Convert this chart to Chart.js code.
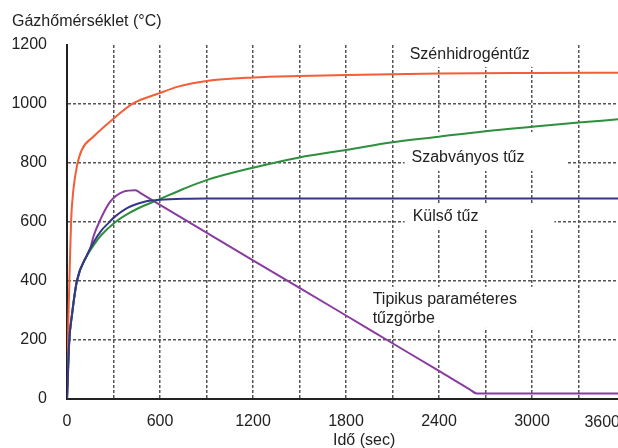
<!DOCTYPE html>
<html lang="hu">
<head>
<meta charset="utf-8">
<title>Gázhőmérséklet</title>
<script src="https://cdn.jsdelivr.net/npm/chart.js@4.4.1/dist/chart.umd.min.js"></script>
<style>
  html, body { margin: 0; padding: 0; background: #fff; overflow: hidden; }
  #wrap { width: 618px; height: 448px; }
</style>
</head>
<body>
<div id="wrap"><canvas id="chart" width="618" height="448"></canvas></div>
<script>
// ── Values (time in s, temperature in °C) ──────────────────────────
const hydroTime = [0, 8, 18, 27, 41, 63, 95, 170, 277, 427, 593, 717, 900, 1200, 1500, 1800, 2400, 3000, 3555];
const hydroTemp = [0, 250, 450, 610, 708, 787, 844, 889, 940, 1002, 1036, 1059, 1078, 1090, 1095, 1098, 1103, 1105, 1106];

const standardTime = [0, 15, 32, 64, 129, 170, 220, 313, 400, 495, 560, 600, 750, 900, 1200, 1500, 1800, 2100, 2400, 2700, 3000, 3300, 3555];
const standardTemp = [0, 200, 285, 400, 485, 520, 555, 600, 630, 655, 669, 678, 712, 742, 784, 819, 844, 870, 889, 908, 923, 937, 948];

const externalTime = [0, 15, 32, 64, 129, 170, 220, 270, 300, 390, 495, 600, 750, 900, 3555];
const externalTemp = [0, 200, 285, 400, 488, 530, 570, 598, 614, 648, 668, 675, 679, 680, 680];

const paramTime = [0, 15, 32, 64, 129, 150, 170, 214, 279, 365, 441, 480, 600, 900, 1200, 1500, 1800, 2100, 2400, 2600, 2643, 3555];
const paramTemp = [0, 200, 285, 400, 488, 510, 550, 607, 669, 703, 708, 696, 658, 564, 470, 377, 283, 189, 95, 32, 19, 19];

const timeMax = 3555;                       // the picture is cut just before 3600 s
const xGridTimes = [0, 300, 600, 900, 1200, 1500, 1800, 2100, 2400, 2700, 3000, 3300];
const xTickLabels = [0, 600, 1200, 1800, 2400, 3000, 3600];
const yTicks = [0, 200, 400, 600, 800, 1000, 1200];

// ── Series labels inside the plot (data coordinates) ───────────────
const notes = [
  { lines: ['Szénhidrogéntűz'], t: 2211, T: 1166, box: [2135, 3050, 1200, 1125] },
  { lines: ['Szabványos tűz'], t: 2223, T: 820, box: [2178, 3229, 905, 773] },
  { lines: ['Külső tűz'], t: 2230, T: 617, box: [2178, 3145, 658, 580] },
  { lines: ['Tipikus paraméteres', 'tűzgörbe'], t: 1972, T: 336, box: [1824, 3048, 380, 241] },
];

const FONT = '"Liberation Sans", Arial, Helvetica, sans-serif';
const TEXT = '#222';
const GRID = '#555';

Chart.defaults.font.family = FONT;
Chart.defaults.font.size = 16;
Chart.defaults.color = TEXT;

function toPoints(ts, vs) {
  return ts.map((t, i) => ({ x: t, y: vs[i] }));
}

function series(label, ts, vs, color) {
  return {
    label,
    data: toPoints(ts, vs),
    borderColor: color,
    backgroundColor: color,
    borderWidth: 2,
    pointRadius: 0,
    cubicInterpolationMode: 'monotone',
    fill: false,
  };
}

// ── Text and label backgrounds ─────────────────────────────────────
const annotate = {
  id: 'annotate',
  beforeDatasetsDraw(chart) {
    const { ctx, scales: { x, y } } = chart;
    ctx.save();
    ctx.fillStyle = '#fff';
    notes.forEach(n => {
      const [t0, t1, v0, v1] = n.box;
      const left = x.getPixelForValue(t0), right = x.getPixelForValue(t1);
      const top = y.getPixelForValue(v0), bottom = y.getPixelForValue(v1);
      ctx.fillRect(left, top, right - left, bottom - top);
    });
    ctx.restore();
  },
  afterDraw(chart) {
    const { ctx, scales: { x, y }, width } = chart;
    ctx.save();
    ctx.fillStyle = TEXT;
    ctx.font = `16px ${FONT}`;

    // series labels
    ctx.textAlign = 'left';
    ctx.textBaseline = 'middle';
    notes.forEach(n => {
      const px = x.getPixelForValue(n.t);
      const py = y.getPixelForValue(n.T);
      n.lines.forEach((line, i) => ctx.fillText(line, px, py + i * 18.5));
    });

    // tick labels beyond the visible range (cut at the right edge)
    ctx.textBaseline = 'alphabetic';
    ctx.textAlign = 'right';
    xTickLabels.filter(v => v > x.max).forEach(v => ctx.fillText(String(v), width + 2, 427));

    // axis titles
    ctx.textAlign = 'left';
    ctx.fillText('Gázhőmérséklet (°C)', 12, 26);
    ctx.fillText('Idő (sec)', 333, 445);
    ctx.restore();
  },
};

new Chart(document.getElementById('chart'), {
  type: 'line',
  data: {
    datasets: [
      series('Külső tűz', externalTime, externalTemp, '#35378a'),
      series('Szabványos tűz', standardTime, standardTemp, '#2e8f3e'),
      series('Tipikus paraméteres tűzgörbe', paramTime, paramTemp, '#8a3ba0'),
      series('Szénhidrogéntűz', hydroTime, hydroTemp, '#f25e36'),
    ],
  },
  options: {
    responsive: false,
    animation: false,
    events: [],
    layout: { padding: { top: 45, right: 0, bottom: 0, left: 0 } },
    plugins: {
      legend: { display: false },
      tooltip: { enabled: false },
      title: { display: false },
    },
    scales: {
      x: {
        type: 'linear',
        min: 0,
        max: timeMax,
        afterBuildTicks: s => { s.ticks = xGridTimes.map(v => ({ value: v })); },
        afterFit: s => { s.height = 49; s.paddingLeft = 0; s.paddingRight = 0; },
        grid: { color: GRID, lineWidth: 1.5, drawTicks: false },
        border: { display: true, color: '#222', width: 2, dash: [3, 2] },
        ticks: {
          autoSkip: false,
          maxRotation: 0,
          padding: 13,
          callback: function (v) {
            const t = Math.round(Number(v));
            return xTickLabels.includes(t) ? String(t) : '';
          },
        },
      },
      y: {
        min: 0,
        max: 1200,
        afterFit: s => { s.width = 67; s.paddingTop = 0; s.paddingBottom = 0; },
        afterBuildTicks: s => { s.ticks = yTicks.map(v => ({ value: v })); },
        grid: {
          color: ctx => (ctx.tick && ctx.tick.value === 1200 ? 'rgba(0,0,0,0)' : GRID),
          lineWidth: 1.5,
          drawTicks: false,
        },
        border: { display: true, color: '#222', width: 2, dash: [3, 2] },
        ticks: { padding: 20, callback: v => String(v) },
      },
    },
  },
  plugins: [annotate],
});
</script>
</body>
</html>
